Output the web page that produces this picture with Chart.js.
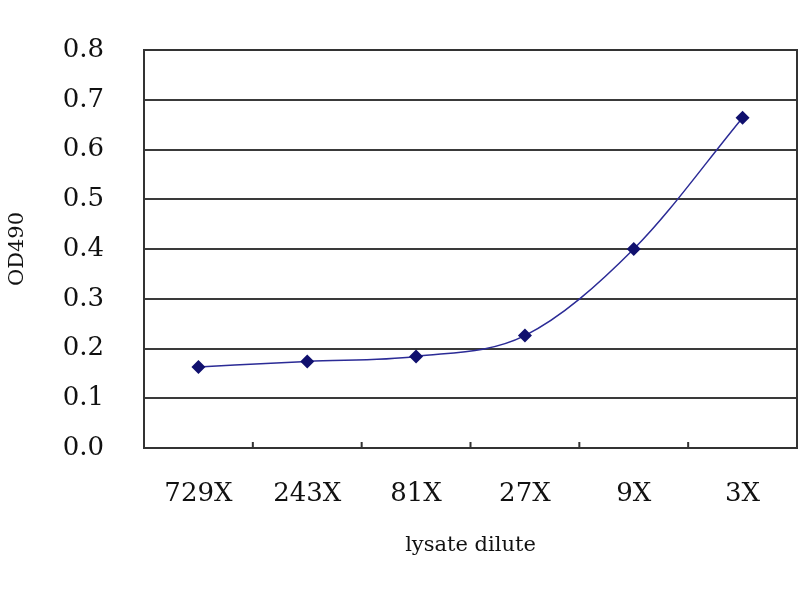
<!DOCTYPE html>
<html>
<head>
<meta charset="utf-8">
<script src="https://cdn.jsdelivr.net/npm/chart.js@4/dist/chart.umd.min.js"></script>
<style>
  html, body { margin: 0; padding: 0; background: #fff; }
  #wrap { width: 800px; height: 600px; }
</style>
</head>
<body>
<div id="wrap"><canvas id="odChart" width="800" height="600"></canvas></div>
<script>
const dilutions = ["729X", "243X", "81X", "27X", "9X", "3X"];
const od490 = [0.163, 0.174, 0.184, 0.226, 0.400, 0.664];
const yTicks = [0.0, 0.1, 0.2, 0.3, 0.4, 0.5, 0.6, 0.7, 0.8];

const serif = "'DejaVu Serif', 'Liberation Serif', serif";

// box round the plot area and short inward marks between categories
const framePlugin = {
    id: "frame",
    afterDraw(chart) {
        const a = chart.chartArea;
        const x = chart.scales.x;
        const c = chart.ctx;
        c.save();
        c.strokeStyle = "#333";
        c.lineWidth = 2;
        c.strokeRect(a.left, a.top, a.right - a.left, a.bottom - a.top);
        c.beginPath();
        for (let i = 1; i < dilutions.length; i++) {
            const px = (x.getPixelForValue(i - 1) + x.getPixelForValue(i)) / 2;
            c.moveTo(px, a.bottom);
            c.lineTo(px, a.bottom - 6);
        }
        c.stroke();
        c.restore();
    }
};

new Chart(document.getElementById("odChart"), {
    type: "line",
    data: {
        labels: dilutions,
        datasets: [{
            data: od490,
            borderColor: "#2b2b96",
            borderWidth: 1.5,
            backgroundColor: "#10106e",
            pointStyle: "rectRot",
            pointRadius: 7,
            pointBorderWidth: 0,
            cubicInterpolationMode: "monotone",
            fill: false
        }]
    },
    options: {
        responsive: false,
        animation: false,
        layout: {
            autoPadding: false,
            padding: { top: 50, right: 3, bottom: 42, left: 0 }
        },
        plugins: { legend: { display: false }, tooltip: { enabled: false } },
        scales: {
            x: {
                offset: true,
                grid: {
                    drawOnChartArea: false,
                    tickLength: 29,
                    tickColor: "rgba(0,0,0,0)"
                },
                border: { display: false },
                ticks: {
                    color: "#111",
                    font: { family: serif, size: 26 },
                    padding: 2,
                    maxRotation: 0
                },
                title: {
                    display: true,
                    text: "lysate dilute",
                    color: "#111",
                    font: { family: serif, size: 21 },
                    padding: { top: 0, bottom: 0 }
                },
                afterFit(scale) {
                    scale.height = 110;
                    scale.paddingLeft = 0;
                    scale.paddingRight = 0;
                }
            },
            y: {
                min: 0,
                max: 0.8,
                afterBuildTicks(scale) {
                    scale.ticks = yTicks.map(v => ({ value: v }));
                },
                grid: {
                    color: "#3a3a3a",
                    lineWidth: 2,
                    tickLength: 38,
                    tickColor: "rgba(0,0,0,0)"
                },
                border: { display: false },
                ticks: {
                    color: "#111",
                    font: { family: serif, size: 26 },
                    padding: 2,
                    callback: v => v.toFixed(1)
                },
                title: {
                    display: true,
                    text: "OD490",
                    color: "#111",
                    font: { family: serif, size: 21 },
                    padding: { top: 5, bottom: 0 }
                },
                afterFit(scale) { scale.width = 144; }
            }
        }
    },
    plugins: [framePlugin]
});
</script>
</body>
</html>
